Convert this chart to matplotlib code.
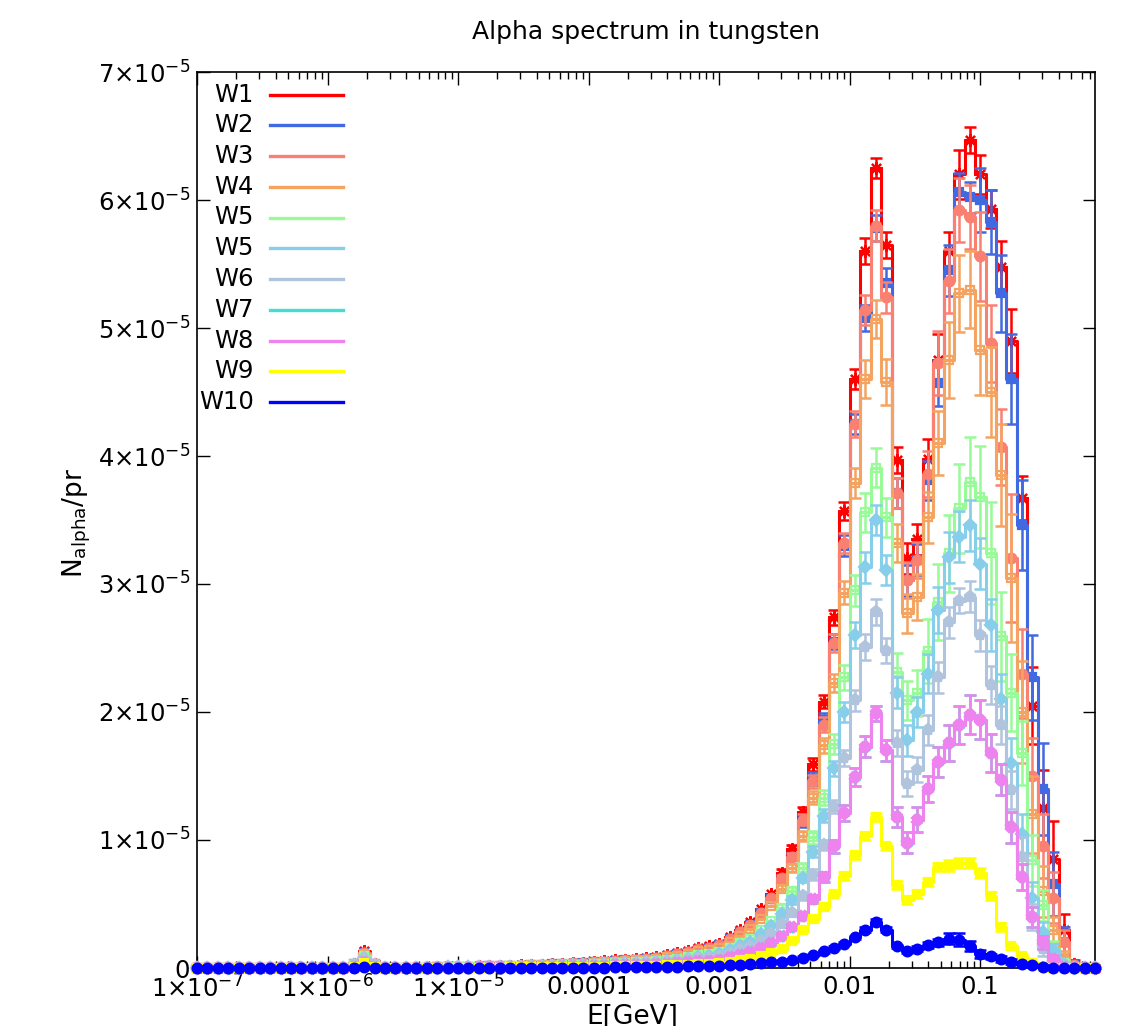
import matplotlib
matplotlib.use('Agg')
import matplotlib.pyplot as plt
import numpy as np

# ------------------------------
#    DATA (values in units of 1e-5 alpha / primary)
# ------------------------------

# Energy grid: log bins, 12.5 per decade, first bin centre at 1e-7 GeV
LOG_E_START = -7.0
LOG_E_STEP = 0.08
N_BINS = 87
energy = 10 ** (LOG_E_START + LOG_E_STEP * np.arange(N_BINS))

SCALE = 1e-5

w1 = [
    0, 0, 0, 0, 0, 0, 0, 0, 0, 0, 0, 0, 0, 0, 0, 0.03, 0.13, 0.03, 0, 0,
    0, 0, 0, 0.005, 0.008, 0.01, 0.01, 0.012, 0.014, 0.016, 0.018, 0.02, 0.024, 0.027, 0.03, 0.034, 0.038, 0.042, 0.047, 0.053,
    0.06, 0.065, 0.07, 0.078, 0.087, 0.10, 0.115, 0.13, 0.155, 0.17, 0.19, 0.245, 0.30, 0.36, 0.46, 0.58, 0.74, 0.93, 1.22, 1.59,
    2.08, 2.74, 3.57, 4.60, 5.60, 6.25, 5.65, 3.97, 3.20, 3.35, 3.98, 4.75, 5.60, 6.20, 6.47, 6.20, 5.93, 5.48, 4.90, 3.67,
    2.05, 1.25, 0.85, 0.30, 0.03, 0, 0,
]
w2 = [
    0, 0, 0, 0, 0, 0, 0, 0, 0, 0, 0, 0, 0, 0, 0, 0.03, 0.12, 0.03, 0, 0,
    0, 0, 0, 0.005, 0.007, 0.009, 0.009, 0.011, 0.013, 0.015, 0.017, 0.019, 0.022, 0.025, 0.028, 0.032, 0.035, 0.039, 0.044, 0.049,
    0.056, 0.06, 0.065, 0.073, 0.081, 0.093, 0.107, 0.121, 0.144, 0.158, 0.177, 0.228, 0.279, 0.335, 0.428, 0.539, 0.69, 0.87, 1.14, 1.48,
    1.94, 2.55, 3.30, 4.25, 5.08, 5.78, 5.35, 3.71, 3.03, 3.19, 3.81, 4.57, 5.45, 6.06, 6.02, 6.00, 5.83, 5.27, 4.60, 3.46,
    2.27, 1.40, 0.66, 0.20, 0.02, 0, 0,
]
w3 = [
    0, 0, 0, 0, 0, 0, 0, 0, 0, 0, 0, 0, 0, 0, 0, 0.03, 0.12, 0.03, 0, 0,
    0, 0, 0, 0.005, 0.007, 0.009, 0.01, 0.011, 0.013, 0.015, 0.017, 0.019, 0.022, 0.025, 0.028, 0.032, 0.036, 0.039, 0.044, 0.05,
    0.056, 0.061, 0.066, 0.073, 0.082, 0.094, 0.108, 0.122, 0.146, 0.16, 0.179, 0.23, 0.282, 0.338, 0.432, 0.545, 0.70, 0.87, 1.16, 1.46,
    1.90, 2.54, 3.32, 4.25, 5.14, 5.80, 5.24, 3.71, 3.03, 3.19, 3.86, 4.73, 5.37, 5.92, 5.87, 5.56, 4.88, 4.07, 3.20, 2.30,
    1.50, 0.95, 0.55, 0.20, 0.02, 0, 0,
]
w4 = [
    0, 0, 0, 0, 0, 0, 0, 0, 0, 0, 0, 0, 0, 0, 0, 0.03, 0.11, 0.03, 0, 0,
    0, 0, 0, 0.004, 0.007, 0.008, 0.008, 0.01, 0.012, 0.013, 0.015, 0.017, 0.02, 0.023, 0.025, 0.029, 0.032, 0.035, 0.039, 0.045,
    0.05, 0.055, 0.059, 0.066, 0.073, 0.084, 0.097, 0.109, 0.13, 0.143, 0.16, 0.206, 0.252, 0.302, 0.386, 0.487, 0.62, 0.78, 1.03, 1.33,
    1.74, 2.23, 2.93, 3.79, 4.60, 5.07, 4.58, 3.32, 2.77, 2.90, 3.52, 4.10, 4.75, 5.27, 5.30, 4.83, 4.50, 3.85, 3.05, 2.00,
    1.20, 0.60, 0.30, 0.08, 0.01, 0, 0,
]
w5a = [
    0, 0, 0, 0, 0, 0, 0, 0, 0, 0, 0, 0, 0, 0, 0, 0.02, 0.09, 0.02, 0, 0,
    0, 0, 0, 0.003, 0.005, 0.006, 0.006, 0.008, 0.009, 0.01, 0.012, 0.013, 0.015, 0.017, 0.019, 0.022, 0.024, 0.027, 0.03, 0.034,
    0.038, 0.042, 0.045, 0.05, 0.056, 0.064, 0.074, 0.083, 0.099, 0.109, 0.122, 0.157, 0.192, 0.23, 0.294, 0.371, 0.47, 0.60, 0.78, 1.02,
    1.33, 1.75, 2.27, 2.95, 3.56, 3.91, 3.52, 2.31, 2.09, 2.15, 2.48, 2.86, 3.24, 3.59, 3.80, 3.68, 3.24, 2.59, 2.15, 1.68,
    0.84, 0.49, 0.15, 0.04, 0, 0, 0,
]
w5b = [
    0, 0, 0, 0, 0, 0, 0, 0, 0, 0, 0, 0, 0, 0, 0, 0.02, 0.08, 0.02, 0, 0,
    0, 0, 0, 0.003, 0.005, 0.006, 0.006, 0.007, 0.008, 0.009, 0.01, 0.011, 0.014, 0.015, 0.017, 0.019, 0.022, 0.024, 0.027, 0.03,
    0.034, 0.037, 0.04, 0.044, 0.05, 0.057, 0.066, 0.074, 0.088, 0.097, 0.108, 0.14, 0.171, 0.205, 0.262, 0.331, 0.42, 0.53, 0.70, 0.91,
    1.19, 1.56, 2.00, 2.60, 3.13, 3.50, 3.11, 2.15, 1.78, 2.00, 2.30, 2.80, 3.21, 3.37, 3.46, 3.16, 2.68, 2.10, 1.60, 1.05,
    0.55, 0.28, 0.14, 0.03, 0, 0, 0,
]
w6 = [
    0, 0, 0, 0, 0, 0, 0, 0, 0, 0, 0, 0, 0, 0, 0, 0.02, 0.07, 0.02, 0, 0,
    0, 0, 0, 0.002, 0.004, 0.005, 0.005, 0.006, 0.006, 0.007, 0.008, 0.009, 0.011, 0.012, 0.014, 0.016, 0.017, 0.019, 0.022, 0.024,
    0.028, 0.03, 0.032, 0.036, 0.04, 0.046, 0.053, 0.06, 0.071, 0.078, 0.087, 0.113, 0.138, 0.166, 0.212, 0.267, 0.34, 0.43, 0.56, 0.73,
    0.96, 1.26, 1.64, 2.09, 2.51, 2.78, 2.48, 1.76, 1.44, 1.55, 1.86, 2.27, 2.70, 2.87, 2.90, 2.60, 2.21, 1.90, 1.39, 0.87,
    0.40, 0.15, 0.05, 0, 0, 0, 0,
]
w8 = [
    0, 0, 0, 0, 0, 0, 0, 0, 0, 0, 0, 0, 0, 0, 0, 0.01, 0.05, 0.01, 0, 0,
    0, 0, 0, 0.002, 0.003, 0.003, 0.003, 0.004, 0.005, 0.005, 0.006, 0.007, 0.008, 0.009, 0.01, 0.012, 0.013, 0.014, 0.016, 0.018,
    0.02, 0.022, 0.024, 0.027, 0.03, 0.034, 0.039, 0.044, 0.053, 0.058, 0.065, 0.083, 0.102, 0.122, 0.156, 0.197, 0.25, 0.32, 0.41, 0.54,
    0.71, 0.95, 1.21, 1.49, 1.73, 1.99, 1.70, 1.18, 0.98, 1.16, 1.40, 1.61, 1.76, 1.90, 1.98, 1.94, 1.68, 1.47, 1.10, 0.71,
    0.40, 0.20, 0.07, 0.01, 0, 0, 0,
]
# W7 is completely hidden underneath W8 in the original plot
w7 = w8
w9 = [
    0, 0, 0, 0, 0, 0, 0, 0, 0, 0, 0, 0, 0, 0, 0, 0.01, 0.04, 0.01, 0, 0,
    0, 0, 0, 0.001, 0.002, 0.002, 0.002, 0.002, 0.003, 0.003, 0.004, 0.004, 0.005, 0.005, 0.006, 0.007, 0.008, 0.008, 0.009, 0.011,
    0.012, 0.013, 0.014, 0.016, 0.017, 0.02, 0.023, 0.026, 0.031, 0.034, 0.038, 0.049, 0.06, 0.072, 0.092, 0.116, 0.15, 0.21, 0.30, 0.38,
    0.48, 0.58, 0.72, 0.88, 1.03, 1.18, 0.95, 0.65, 0.53, 0.58, 0.67, 0.79, 0.80, 0.82, 0.82, 0.74, 0.56, 0.32, 0.17, 0.09,
    0.04, 0.01, 0, 0, 0, 0, 0,
]
w10 = [
    0, 0, 0, 0, 0, 0, 0, 0, 0, 0, 0, 0, 0, 0, 0, 0, 0.01, 0, 0, 0,
    0, 0, 0, 0, 0, 0, 0, 0, 0, 0, 0, 0, 0, 0, 0, 0, 0, 0, 0, 0,
    0.004, 0.005, 0.005, 0.006, 0.007, 0.008, 0.01, 0.012, 0.014, 0.016, 0.018, 0.022, 0.027, 0.032, 0.038, 0.045, 0.05, 0.06, 0.08, 0.10,
    0.13, 0.16, 0.19, 0.24, 0.30, 0.36, 0.30, 0.17, 0.13, 0.15, 0.18, 0.20, 0.23, 0.22, 0.17, 0.11, 0.09, 0.07, 0.05, 0.03,
    0.02, 0.01, 0, 0, 0, 0, 0,
]

# Statistical errors (same units), only visible from bin 56 upwards
ERR_FIRST_BIN = 56
e1 = [0.03, 0.03, 0.04, 0.05, 0.05, 0.06, 0.07, 0.08, 0.10, 0.08, 0.10, 0.10, 0.12, 0.12, 0.15, 0.20,
      0.15, 0.19, 0.10, 0.15, 0.15, 0.20, 0.25, 0.17, 0.30, 0.30, 0.30, 0.12, 0.03, 0, 0]
e2 = [0.03, 0.03, 0.04, 0.05, 0.05, 0.06, 0.08, 0.08, 0.10, 0.10, 0.12, 0.12, 0.12, 0.12, 0.15, 0.18,
      0.20, 0.15, 0.12, 0.25, 0.25, 0.30, 0.35, 0.35, 0.33, 0.36, 0.25, 0.12, 0.02, 0, 0]
e3 = [0.03, 0.03, 0.04, 0.05, 0.06, 0.07, 0.08, 0.10, 0.12, 0.12, 0.12, 0.12, 0.14, 0.14, 0.18, 0.25,
      0.25, 0.25, 0.25, 0.35, 0.30, 0.30, 0.50, 0.35, 0.30, 0.25, 0.20, 0.10, 0.02, 0, 0]
e4 = [0.03, 0.03, 0.04, 0.05, 0.06, 0.07, 0.09, 0.12, 0.15, 0.15, 0.18, 0.15, 0.15, 0.18, 0.20, 0.25,
      0.30, 0.30, 0.30, 0.35, 0.35, 0.40, 0.50, 0.40, 0.30, 0.20, 0.10, 0.05, 0.01, 0, 0]
e5a = [0.03, 0.03, 0.04, 0.05, 0.06, 0.08, 0.10, 0.12, 0.15, 0.15, 0.15, 0.15, 0.15, 0.18, 0.25, 0.30,
       0.30, 0.35, 0.35, 0.40, 0.40, 0.35, 0.30, 0.25, 0.20, 0.12, 0.06, 0.02, 0, 0, 0]
e5b = [0.02, 0.03, 0.03, 0.04, 0.05, 0.06, 0.08, 0.10, 0.12, 0.12, 0.12, 0.12, 0.12, 0.12, 0.15, 0.18,
       0.20, 0.20, 0.20, 0.20, 0.20, 0.20, 0.20, 0.15, 0.12, 0.08, 0.05, 0.02, 0, 0, 0]
e6 = [0.02, 0.02, 0.03, 0.04, 0.04, 0.05, 0.06, 0.08, 0.10, 0.10, 0.10, 0.10, 0.10, 0.10, 0.12, 0.12,
      0.12, 0.10, 0.12, 0.12, 0.15, 0.15, 0.15, 0.15, 0.10, 0.06, 0.03, 0, 0, 0, 0]
e8 = [0.02, 0.02, 0.03, 0.03, 0.04, 0.05, 0.06, 0.07, 0.08, 0.06, 0.08, 0.08, 0.08, 0.10, 0.10, 0.12,
      0.14, 0.15, 0.15, 0.15, 0.15, 0.12, 0.12, 0.10, 0.08, 0.05, 0.03, 0.01, 0, 0, 0]
e7 = e8
e9 = [0.01, 0.01, 0.02, 0.02, 0.02, 0.02, 0.03, 0.03, 0.03, 0.03, 0.03, 0.03, 0.03, 0.03, 0.03, 0.03,
      0.04, 0.04, 0.04, 0.04, 0.03, 0.03, 0.02, 0.02, 0.01, 0.01, 0, 0, 0, 0, 0]
e10 = [0.01, 0.01, 0.01, 0.01, 0.01, 0.01, 0.01, 0.01, 0.02, 0.02, 0.02, 0.01, 0.01, 0.02, 0.02, 0.03,
       0.04, 0.05, 0.04, 0.03, 0.02, 0.02, 0.02, 0.01, 0.01, 0.01, 0, 0, 0, 0, 0]

labels = ['W1', 'W2', 'W3', 'W4', 'W5', 'W5', 'W6', 'W7', 'W8', 'W9', 'W10']
values = [w1, w2, w3, w4, w5a, w5b, w6, w7, w8, w9, w10]
errors = [e1, e2, e3, e4, e5a, e5b, e6, e7, e8, e9, e10]

x_tick_values = [1e-7, 1e-6, 1e-5, 1e-4, 1e-3, 1e-2, 1e-1]
x_tick_labels = ['1×10$^{-7}$', '1×10$^{-6}$', '1×10$^{-5}$', '0.0001', '0.001', '0.01', '0.1']
y_tick_values = [0, 1e-5, 2e-5, 3e-5, 4e-5, 5e-5, 6e-5, 7e-5]
y_tick_labels = ['0'] + [f'{i}×10$^{{-5}}$' for i in range(1, 8)]

# ------------------------------
#    STYLE
# ------------------------------

colors = ['#ff0000', '#4169e1', '#fa8072', '#f4a460', '#98fb98', '#87ceeb',
          '#b0c4de', '#40e0d0', '#ee82ee', '#ffff00', '#0000ff']
markers = [(8, 2, 0), 's', 'o', 's', 's', 'D', 'p', 'h', 'X', 's', 'o']
marker_sizes = [9, 6, 7, 6, 6, 6, 8, 7, 7, 6, 7]
marker_filled = [True, True, True, False, False, True, True, True, True, True, True]

FONT = 17.5
plt.rcParams['font.family'] = 'DejaVu Sans'
plt.rcParams['font.size'] = FONT

W, H = 1123, 1026
fig = plt.figure(figsize=(W / 100, H / 100), dpi=100)
ax_left, ax_right, ax_top, ax_bottom = 197, 1095, 72, 968
ax = fig.add_axes([ax_left / W, 1 - ax_bottom / H, (ax_right - ax_left) / W, (ax_bottom - ax_top) / H])

for i, (vals, errs) in enumerate(zip(values, errors)):
    y = np.array(vals) * SCALE
    yerr = np.zeros(N_BINS)
    yerr[ERR_FIRST_BIN:] = np.array(errs) * SCALE
    z = 3 + i
    color = colors[i]
    ax.step(energy, y, where='mid', color=color, lw=2.2, zorder=z)
    ax.errorbar(energy, y, yerr=yerr, fmt='none', ecolor=color, elinewidth=1.8,
                capsize=4, capthick=1.8, zorder=z)
    ax.plot(energy, y, linestyle='none', marker=markers[i], ms=marker_sizes[i],
            mfc=color if marker_filled[i] else 'none', mec=color, mew=1.6,
            zorder=z, clip_on=False)

ax.set_xscale('log')
ax.set_xlim(energy[0], energy[-1])
ax.set_ylim(0, 7e-5)

ax.set_xticks(x_tick_values)
ax.set_xticklabels(x_tick_labels)
ax.set_yticks(y_tick_values)
ax.set_yticklabels(y_tick_labels)
ax.tick_params(which='both', direction='in', top=True, right=True, labelsize=FONT)
ax.tick_params(which='major', length=9, width=1)
ax.tick_params(which='minor', length=5, width=1)
ax.tick_params(axis='x', pad=5)
ax.tick_params(axis='y', pad=5)
for spine in ax.spines.values():
    spine.set_linewidth(1.2)

# Legend drawn by hand, gnuplot style: right-aligned label then line sample
for i, label in enumerate(labels):
    y_px = 94.5 + 30.75 * i
    ya = (ax_bottom - y_px) / (ax_bottom - ax_top)
    ax.text((254 - ax_left) / (ax_right - ax_left), ya, label, transform=ax.transAxes,
            ha='right', va='center', fontsize=FONT, zorder=20)
    ax.plot([(270 - ax_left) / (ax_right - ax_left), (343 - ax_left) / (ax_right - ax_left)], [ya, ya],
            transform=ax.transAxes, color=colors[i], lw=2.4, zorder=20, clip_on=False)

fig.text(646 / W, 1 - 32 / H, 'Alpha spectrum in tungsten', ha='center', va='center', fontsize=18)
fig.text(632 / W, 1 - 1024 / H, 'E[GeV]', ha='center', va='baseline', fontsize=19)
fig.text(77 / W, 1 - 523 / H, 'N$_{\\mathrm{alpha}}$/pr', ha='center', va='center',
         rotation=90, fontsize=19)

fig.savefig('out.png', dpi=100)
